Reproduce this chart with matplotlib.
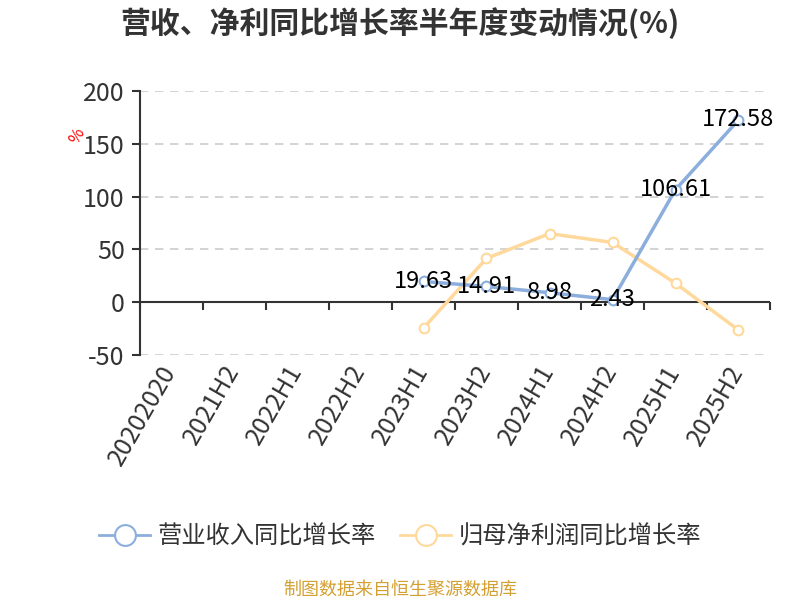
import numpy as np
import matplotlib
matplotlib.use('Agg')
from matplotlib import pyplot as plt
from matplotlib.lines import Line2D
from matplotlib.transforms import ScaledTranslation

plt.rcParams['font.family'] = ['Noto Sans CJK SC', 'DejaVu Sans']
plt.rcParams['axes.unicode_minus'] = False

periods = ['20202020', '2021H2', '2022H1', '2022H2', '2023H1',
           '2023H2', '2024H1', '2024H2', '2025H1', '2025H2']
revenue_growth = [None, None, None, None, 19.63, 14.91, 8.98, 2.43, 106.61, 172.58]
profit_growth = [None, None, None, None, -24.5, 41.5, 65.0, 56.6, 18.0, -26.4]
y_ticks = [-50, 0, 50, 100, 150, 200]

blue = '#8caedd'
orange = '#ffd99c'
text_color = '#333333'

fig = plt.figure(figsize=(8, 6), dpi=100)
ax = fig.add_axes([0.175, 0.4083, 0.7875, 0.44])

x = np.arange(len(periods))


def to_arr(values):
    return np.array([np.nan if v is None else v for v in values], dtype=float)


rev = to_arr(revenue_growth)
prof = to_arr(profit_growth)

ax.plot(x, prof, color=orange, lw=2.5, marker='o', ms=7, mfc='white',
        mec=orange, mew=1.5, zorder=3)
ax.plot(x, rev, color=blue, lw=2.5, marker='o', ms=7, mfc='white',
        mec=blue, mew=1.5, zorder=4)

for xi, v in zip(x, rev):
    if not np.isnan(v):
        ax.text(xi, v, '{:.2f}'.format(v), ha='center', va='center',
                fontsize=17, color='black', zorder=5)

ax.set_xlim(-0.5, len(periods) - 0.5)
ax.set_ylim(-50, 200)
ax.set_yticks(y_ticks)
ax.set_yticklabels([str(t) for t in y_ticks], fontsize=18, color=text_color)
ax.yaxis.grid(True, linestyle=(0, (5, 4)), color='#cccccc', lw=1.2)
ax.set_axisbelow(True)

for side in ['top', 'right', 'bottom']:
    ax.spines[side].set_visible(False)
ax.spines['left'].set_color(text_color)
ax.spines['left'].set_linewidth(1.5)
ax.tick_params(axis='y', direction='out', length=6, width=1.5, color=text_color, pad=5)

ax.set_xticks(x)
ax.set_xticklabels(periods, rotation=60, ha='right', va='top',
                   rotation_mode='anchor', fontsize=18, color=text_color)
ax.tick_params(axis='x', length=0, pad=4)
shift = ScaledTranslation(-12 / 100, 0, fig.dpi_scale_trans)
for lbl in ax.get_xticklabels():
    lbl.set_transform(lbl.get_transform() + shift)

# zero axis line with category boundary ticks
ax.axhline(0, color=text_color, lw=1.5, zorder=2)
sec = ax.secondary_xaxis(0.2)
sec.set_xticks(np.arange(-0.5, len(periods), 1.0))
sec.set_xticklabels([])
sec.tick_params(direction='out', length=6, width=1.5, color=text_color)
sec.spines['bottom'].set_visible(False)

ax.text(-0.1, 0.83, '%', transform=ax.transAxes, color='red', fontsize=12,
        rotation=60, ha='center', va='center')

fig.text(0.5, 0.962, '营收、净利同比增长率半年度变动情况(%)', ha='center', va='center',
         fontsize=21.5, fontweight='bold', color=text_color)

handles = [
    Line2D([], [], color=blue, lw=2, marker='o', ms=15, mfc='white', mec=blue, mew=1.5),
    Line2D([], [], color=orange, lw=2, marker='o', ms=15, mfc='white', mec=orange, mew=1.5),
]
fig.legend(handles, ['营业收入同比增长率', '归母净利润同比增长率'], loc='center',
           bbox_to_anchor=(0.5, 0.105), ncol=2, frameon=False, fontsize=17.5,
           handlelength=2.1, handletextpad=0.3, columnspacing=1.0, labelcolor=text_color)

fig.text(0.5, 0.017, '制图数据来自恒生聚源数据库', ha='center', va='center',
         fontsize=13, color='#d4a031')

fig.savefig('out.png', dpi=100)
